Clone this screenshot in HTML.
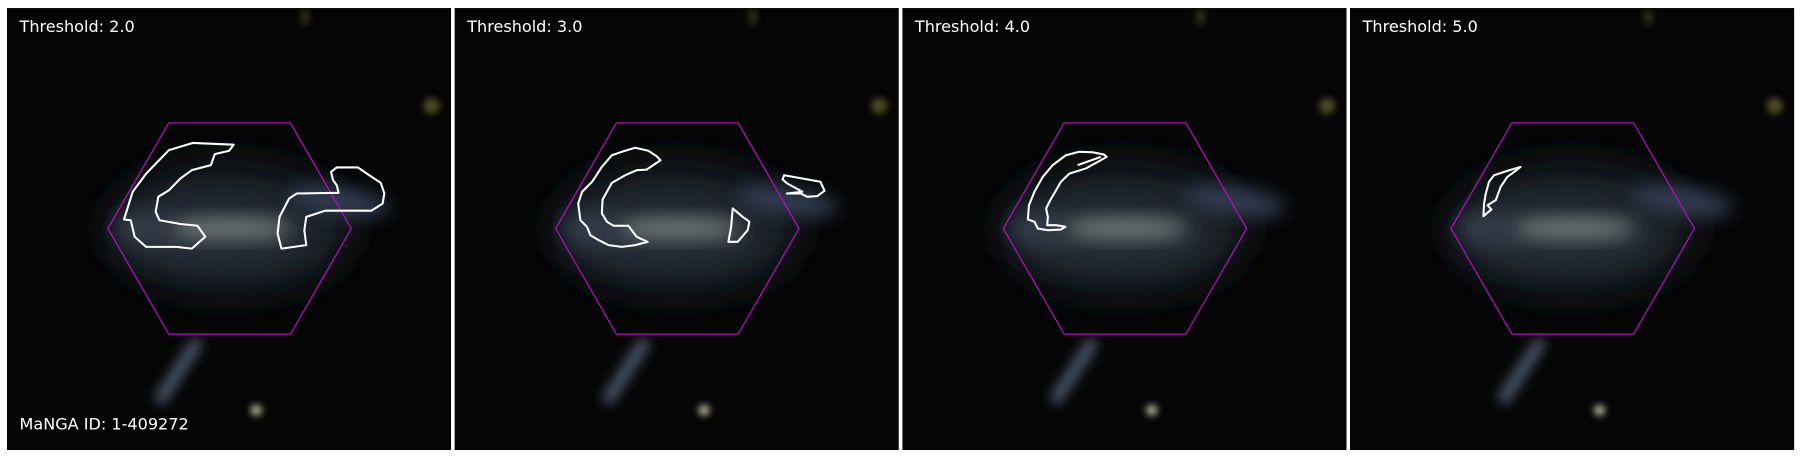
<!DOCTYPE html>
<html><head><meta charset="utf-8"><style>
html,body{margin:0;padding:0;background:#fff;}
svg{display:block;}
text{font-family:"DejaVu Sans","Liberation Sans",sans-serif;}
</style></head><body>
<svg id="fig" width="1800" height="457" viewBox="0 0 1568 398" preserveAspectRatio="none" xmlns="http://www.w3.org/2000/svg">
<defs>
<filter id="b3" x="-50%" y="-50%" width="200%" height="200%"><feGaussianBlur stdDeviation="3"/></filter>
<filter id="b5" x="-50%" y="-50%" width="200%" height="200%"><feGaussianBlur stdDeviation="5"/></filter>
<filter id="b8" x="-50%" y="-50%" width="200%" height="200%"><feGaussianBlur stdDeviation="8"/></filter>
<filter id="b14" x="-50%" y="-50%" width="200%" height="200%"><feGaussianBlur stdDeviation="16"/></filter>
</defs>
</svg>
<script>
const thresholds = ["2.0","3.0","4.0","5.0"];
const mangaId = "1-409272";
// contours in hexagon-normalized coords (u across hex width, v down hex height)
const contours0 = [
 [[.348,.095],[.517,.103],[.498,.132],[.439,.148],[.423,.200],[.345,.224],[.298,.263],[.251,.319],[.207,.350],[.196,.421],[.212,.461],[.298,.479],[.368,.487],[.400,.539],[.345,.595],[.282,.587],[.157,.587],[.110,.539],[.094,.461],[.066,.457],[.102,.326],[.157,.240],[.251,.129]],
 [[.917,.232],[.940,.211],[1.027,.211],[1.074,.248],[1.121,.284],[1.136,.334],[1.129,.382],[1.082,.416],[.893,.416],[.815,.445],[.807,.508],[.815,.579],[.713,.595],[.697,.524],[.705,.445],[.745,.358],[.776,.334],[.948,.331],[.940,.295],[.925,.271]]
];
const contours1 = [
 [[.327,.118],[.381,.132],[.415,.158],[.431,.177],[.401,.200],[.374,.221],[.333,.224],[.286,.248],[.231,.284],[.211,.326],[.193,.363],[.190,.429],[.211,.468],[.238,.487],[.299,.487],[.333,.539],[.378,.563],[.327,.579],[.272,.587],[.218,.579],[.177,.555],[.143,.532],[.129,.492],[.102,.461],[.093,.382],[.109,.326],[.150,.279],[.190,.208],[.231,.153],[.272,.137]],
 [[.728,.405],[.769,.445],[.796,.468],[.789,.508],[.748,.563],[.710,.563],[.721,.492]],
 [[.939,.248],[1.088,.279],[1.105,.322],[1.075,.347],[1.034,.350],[1.007,.334],[.950,.334],[1.014,.326],[.952,.287],[.932,.268]]
];
const contours2 = [
 [[.101,.457],[.105,.390],[.128,.326],[.162,.256],[.203,.200],[.257,.153],[.312,.137],[.366,.139],[.414,.150],[.425,.161],[.394,.181],[.339,.216],[.271,.240],[.237,.279],[.213,.326],[.193,.366],[.176,.405],[.183,.445],[.180,.484],[.217,.484],[.255,.492],[.237,.505],[.183,.508],[.142,.500],[.128,.468]],
 [[.305,.200],[.401,.161]]
];
const contours3 = [
 [[.286,.208],[.231,.227],[.177,.248],[.156,.279],[.143,.334],[.136,.382],[.133,.442],[.166,.410],[.150,.390],[.184,.366],[.204,.303],[.231,.256],[.269,.224]]
];
const allContours = [contours0, contours1, contours2, contours3];

const NS = "http://www.w3.org/2000/svg";
const svg = document.getElementById("fig");
function mk(tag, attrs, parent){ const e=document.createElementNS(NS,tag); for(const k in attrs) e.setAttribute(k,attrs[k]); parent.appendChild(e); return e; }

thresholds.forEach((t,i)=>{
  const x0 = 6 + i*390, y0 = 7, W = 387, H = 385;
  const hl = x0+88, ht = y0+100, hw = 212, hh = 184;
  const X = u => hl + u*hw, Y = v => ht + v*hh;
  const clipId = "clip"+i;
  const cp = mk("clipPath",{id:clipId},svg.querySelector("defs"));
  mk("rect",{x:x0,y:y0,width:W,height:H},cp);
  const g = mk("g",{"clip-path":"url(#"+clipId+")"},svg);
  
  
  mk("rect",{x:x0,y:y0,width:W,height:H,fill:"#050505"},g);
  // galaxy halo
  mk("ellipse",{cx:X(.5),cy:Y(.5),rx:110,ry:60,fill:"#151b22",filter:"url(#b14)"},g);
  mk("ellipse",{cx:X(.45),cy:Y(.52),rx:85,ry:28,fill:"#2a323d",filter:"url(#b14)"},g);
  mk("ellipse",{cx:X(.95),cy:Y(.37),rx:45,ry:12,fill:"#323c52",filter:"url(#b8)",transform:"rotate(8 "+X(.95)+" "+Y(.37)+")"},g);
  mk("ellipse",{cx:X(.5),cy:Y(.5),rx:55,ry:9,fill:"#6f7a74",filter:"url(#b8)"},g);
  mk("ellipse",{cx:X(.15),cy:Y(.5),rx:25,ry:14,fill:"#323a4a",filter:"url(#b8)"},g);
  // stream
  mk("line",{x1:X(.36),y1:Y(1.05),x2:X(.22),y2:Y(1.3),stroke:"#4a546a","stroke-width":11,"stroke-linecap":"round",filter:"url(#b5)"},g);
  // stars
  mk("circle",{cx:X(.61),cy:Y(1.36),r:5,fill:"#a9a488",filter:"url(#b3)"},g);
  mk("circle",{cx:X(1.33),cy:Y(-.08),r:7,fill:"#4f4a22",filter:"url(#b3)"},g);
  mk("ellipse",{cx:X(.81),cy:Y(-.5),rx:4,ry:7,fill:"#302f1c",filter:"url(#b3)"},g);
  // hexagon
  const hex = [[0,.5],[.25,0],[.75,0],[1,.5],[.75,1],[.25,1]].map(p=>X(p[0])+","+Y(p[1])).join(" ");
  const hp = mk("polygon",{points:hex,fill:"none",stroke:"#b010b8","stroke-width":1.1},g);
  
  
  // contours
  allContours[i].forEach((c,j)=>{
    const pts = c.map(p=>X(p[0]).toFixed(1)+","+Y(p[1]).toFixed(1)).join(" ");
    const el = mk(c.length>2?"polygon":"polyline",{points:pts,fill:"none",stroke:"#fff","stroke-width":1.8,"stroke-linejoin":"round"},g);
    
    
  });
  const tt = mk("text",{x:x0+11,y:y0+21,fill:"#fff","font-size":14},g);
  tt.textContent = "Threshold: "+t;
  
  
  if(i===0){
    const mt = mk("text",{x:x0+11,y:y0+367,fill:"#fff","font-size":14},g);
    mt.textContent = "MaNGA ID: "+mangaId;
    
    
  }
});
</script>
</body></html>
